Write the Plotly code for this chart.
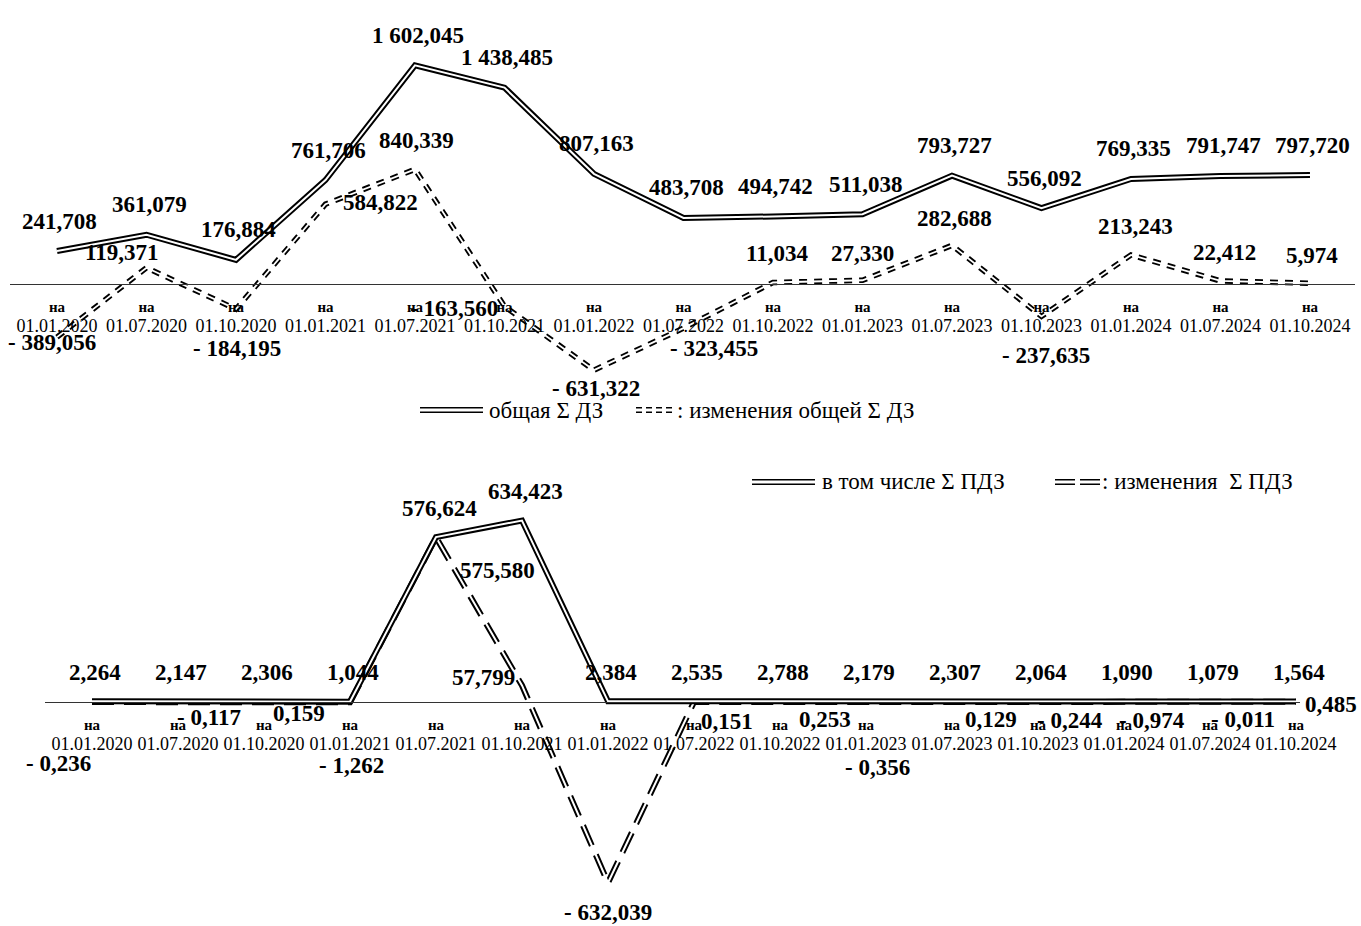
import plotly.graph_objects as go

# ---------------- data ----------------
dates = ["01.01.2020", "01.07.2020", "01.10.2020", "01.01.2021", "01.07.2021",
         "01.10.2021", "01.01.2022", "01.07.2022", "01.10.2022", "01.01.2023",
         "01.07.2023", "01.10.2023", "01.01.2024", "01.07.2024", "01.10.2024"]
date_prefix = "на"

total_dz = [241.708, 361.079, 176.884, 761.706, 1602.045, 1438.485, 807.163, 483.708,
            494.742, 511.038, 793.727, 556.092, 769.335, 791.747, 797.720]
change_dz = [-389.056, 119.371, -184.195, 584.822, 840.339, -163.560, -631.322, -323.455,
             11.034, 27.330, 282.688, -237.635, 213.243, 22.412, 5.974]

total_pdz = [2.264, 2.147, 2.306, 1.044, 576.624, 634.423, 2.384, 2.535,
             2.788, 2.179, 2.307, 2.064, 1.090, 1.079, 1.564]
change_pdz = [-0.236, -0.117, 0.159, -1.262, 575.580, 57.799, -632.039, 0.151,
              0.253, -0.356, 0.129, -0.244, -0.974, -0.011, 0.485]

name_total_dz = "общая Σ ДЗ"
name_change_dz = "изменения общей Σ ДЗ"
name_total_pdz = "в том числе Σ ПДЗ"
name_change_pdz = "изменения  Σ ПДЗ"

# label offsets (screen px, +down) -- layout only
lab_change_dz_dx = [-5, -25, 1, 55, 2, -50, 2, 31, 4, 0, 3, 5, 5, 4, 2]
lab_change_dz_dy = [5, -15, 39, -2, -29, 2, 18, 20, -29, -27, -27, 39, -28, -28, -28]
lab_change_pdz_dx = [-34, 31, 35, 1, 61, -39, 0, 33, 45, 11, 39, 32, 28, 33, 35]
lab_change_pdz_dy = [61, 15, 12, 63, 33, -8, 30, 20, 18, 65, 18, 18, 18, 18, 3]

# ---------------- layout helpers ----------------
W, H = 1361, 926
FONT = "Liberation Serif"


def px(x):
    return x / W


def py(y):
    return 1 - y / H


def fmt(v):
    s = f"{abs(v):,.3f}".replace(",", " ").replace(".", ",")
    return ("- " + s) if v < 0 else s


xs = list(range(len(dates)))
ticktext = [f"<b>{date_prefix}</b><br><span style='font-size:18px'>{d}</span>" for d in dates]

fig = go.Figure()


def double_line(x, y, xa, ya, dash, outer, inner, name):
    fig.add_trace(go.Scatter(x=x, y=y, xaxis=xa, yaxis=ya, mode="lines", name=name,
                             line=dict(color="black", width=outer, dash=dash),
                             showlegend=False, hoverinfo="skip"))
    fig.add_trace(go.Scatter(x=x, y=y, xaxis=xa, yaxis=ya, mode="lines", name=name,
                             line=dict(color="white", width=inner),
                             showlegend=False, hoverinfo="skip"))


# top panel
double_line(xs, change_dz, "x", "y", "8px,7px", 5.5, 1.8, name_change_dz)
double_line(xs, total_dz, "x", "y", "solid", 6, 2, name_total_dz)
# bottom panel
double_line(xs, change_pdz, "x2", "y2", "22px,10px", 6, 2, name_change_pdz)
double_line(xs, total_pdz, "x2", "y2", "solid", 6, 2, name_total_pdz)

ann = []
lab_font = dict(family=FONT, size=23, color="black", weight="bold")
for i in xs:
    ann.append(dict(x=i, y=total_dz[i], xref="x", yref="y", text=fmt(total_dz[i]),
                    showarrow=False, xanchor="center", yanchor="middle",
                    xshift=3, yshift=30, font=lab_font))
    ann.append(dict(x=i, y=change_dz[i], xref="x", yref="y", text=fmt(change_dz[i]),
                    showarrow=False, xanchor="center", yanchor="middle",
                    xshift=lab_change_dz_dx[i], yshift=-lab_change_dz_dy[i], font=lab_font))
    ann.append(dict(x=i, y=total_pdz[i], xref="x2", yref="y2", text=fmt(total_pdz[i]),
                    showarrow=False, xanchor="center", yanchor="middle",
                    xshift=3, yshift=29, font=lab_font))
    ann.append(dict(x=i, y=change_pdz[i], xref="x2", yref="y2", text=fmt(change_pdz[i]),
                    showarrow=False, xanchor="center", yanchor="middle",
                    xshift=lab_change_pdz_dx[i], yshift=-lab_change_pdz_dy[i], font=lab_font))

# legends (custom, double-line symbols)
leg_font = dict(family=FONT, size=23, color="black")
shapes = []


def leg_symbol(x0, x1, y, dash):
    for dy in (-2.2, 2.2):
        shapes.append(dict(type="line", xref="paper", yref="paper",
                           x0=px(x0), x1=px(x1), y0=py(y + dy), y1=py(y + dy),
                           line=dict(color="black", width=1.6, dash=dash)))


leg_symbol(420, 483, 410, "solid")
leg_symbol(636, 672, 410, "6px,4px")
leg_symbol(752, 815, 482, "solid")
leg_symbol(1055, 1100, 482, "20px,5px")
ann.append(dict(x=px(487), y=py(410), xref="paper", yref="paper", text=name_total_dz,
                showarrow=False, xanchor="left", yanchor="middle", font=leg_font))
ann.append(dict(x=px(675), y=py(410), xref="paper", yref="paper", text=": " + name_change_dz,
                showarrow=False, xanchor="left", yanchor="middle", font=leg_font))
ann.append(dict(x=px(820), y=py(482), xref="paper", yref="paper", text=name_total_pdz,
                showarrow=False, xanchor="left", yanchor="middle", font=leg_font))
ann.append(dict(x=px(1100), y=py(482), xref="paper", yref="paper", text=": " + name_change_pdz,
                showarrow=False, xanchor="left", yanchor="middle", font=leg_font))

axis_common = dict(tickmode="array", tickvals=xs, ticktext=ticktext, ticks="",
                   showgrid=False, zeroline=False, showline=True, linecolor="#333333",
                   linewidth=1, anchor="free", ticklabelstandoff=9, automargin=False,
                   tickfont=dict(family=FONT, size=15, color="black"))

fig.update_layout(
    width=W, height=H, margin=dict(l=0, r=0, t=0, b=0, autoexpand=False),
    paper_bgcolor="white", plot_bgcolor="white", showlegend=False,
    xaxis=dict(domain=[px(10), px(1355)], range=[-0.525, 14.503], position=py(284), **axis_common),
    yaxis=dict(domain=[py(400), py(30)], range=[-849.8, 1860.8], visible=False, automargin=False),
    xaxis2=dict(domain=[px(45), px(1300)], range=[-0.5465, 14.0465], position=py(702), **axis_common),
    yaxis2=dict(domain=[py(915), py(455)], range=[-744.8, 863.6], visible=False, automargin=False),
    annotations=ann, shapes=shapes,
)

fig.write_html("out.html", config={"displayModeBar": False},
               post_script="document.body.style.margin='0';document.body.style.overflow='hidden';")
